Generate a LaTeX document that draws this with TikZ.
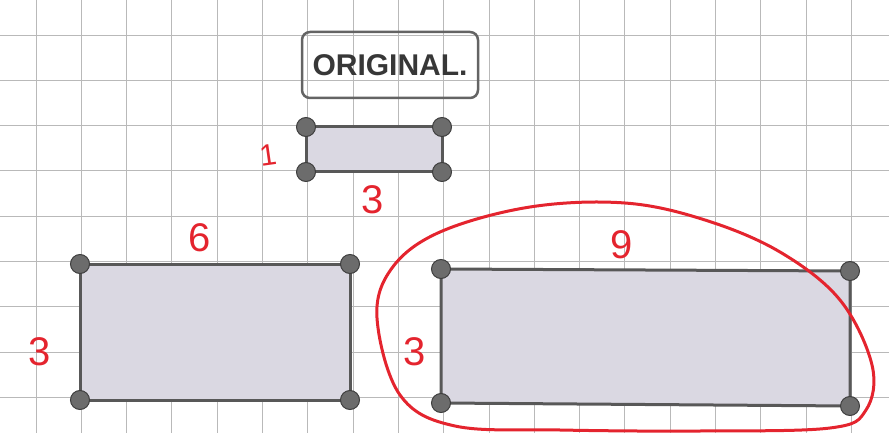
\documentclass[tikz,border=0pt]{standalone}
\usepackage{fontspec}
\setmainfont{Liberation Sans}
\definecolor{gridgray}{RGB}{185,185,185}
\definecolor{rectfill}{RGB}{218,216,226}
\definecolor{edgegray}{RGB}{88,88,88}
\definecolor{dotgray}{RGB}{108,108,108}
\definecolor{dotedge}{RGB}{62,62,62}
\definecolor{boxgray}{RGB}{100,100,100}
\definecolor{labeltext}{RGB}{55,55,55}
\definecolor{penred}{RGB}{228,36,46}
\begin{document}
\begin{tikzpicture}[x=1pt,y=-1pt,
  gridline/.style={draw=gridgray, line width=0.9pt},
  rectshape/.style={fill=rectfill, draw=edgegray, line width=3pt},
  vtx/.style={circle, fill=dotgray, draw=dotedge, line width=1pt, minimum size=19pt, inner sep=0pt},
  redtxt/.style={text=penred, font=\fontsize{40}{40}\selectfont, inner sep=0pt},
  loopline/.style={draw=penred, line width=3pt},
  titlebox/.style={draw=boxgray, line width=2.5pt, rounded corners=8pt, minimum width=176pt, minimum height=66pt, text=labeltext, font=\bfseries\fontsize{30}{30}\selectfont}]
\useasboundingbox (0,0) rectangle (889,433);
% grid
\foreach \i in {0,...,18} \draw[gridline] ({36+45.3*\i},0) -- ({36+45.3*\i},433);
\foreach \j in {0,...,8} \draw[gridline] (0,{35+45.3*\j}) -- (889,{35+45.3*\j});
% title
\node[titlebox] (title) at (390,65) {ORIGINAL.};
% original rectangle
\coordinate (oA) at (306,127); \coordinate (oB) at (442,127);
\coordinate (oC) at (442,172); \coordinate (oD) at (306,172);
\draw[rectshape] (oA) -- (oB) -- (oC) -- (oD) -- cycle;
% 6x3 rectangle
\coordinate (sA) at (80,264); \coordinate (sB) at (350,264);
\coordinate (sC) at (350,400); \coordinate (sD) at (80,400);
\draw[rectshape] (sA) -- (sB) -- (sC) -- (sD) -- cycle;
% 9x3 rectangle
\coordinate (nA) at (441,269); \coordinate (nB) at (850,271);
\coordinate (nC) at (850,406); \coordinate (nD) at (441,403);
\draw[rectshape] (nA) -- (nB) -- (nC) -- (nD) -- cycle;
% vertices
\foreach \p in {oA,oB,oC,oD,sA,sB,sC,sD,nA,nB,nC,nD} \node[vtx] (v\p) at (\p) {};
% red loop
\draw[loopline] plot[smooth cycle, tension=0.6] coordinates {(377,318) (392,268) (440,232) (530,207) (625,203) (705,220) (780,252) (840,300) (872,365) (866,410) (830,428) (700,431) (560,430) (455,426) (400,395)};
% red labels
\node[redtxt, font=\fontsize{30}{30}\selectfont, rotate=8] (l1) at (268,155) {1};
\node[redtxt] (l3a) at (373,200) {3};
\node[redtxt] (l6) at (200,238) {6};
\node[redtxt] (l3b) at (40,352) {3};
\node[redtxt] (l9) at (622,245) {9};
\node[redtxt] (l3c) at (415,352) {3};
\end{tikzpicture}
\end{document}
